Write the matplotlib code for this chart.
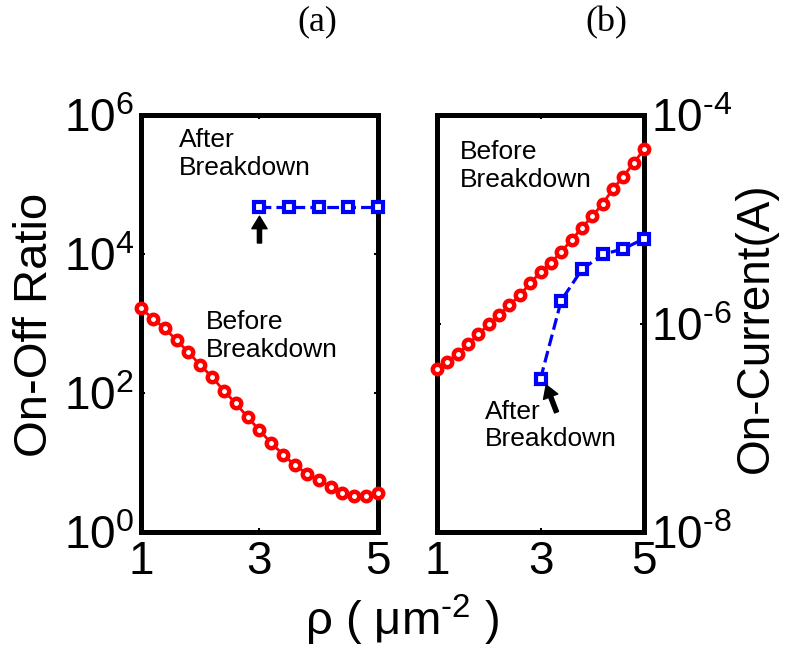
import matplotlib
matplotlib.use("Agg")
import matplotlib.pyplot as plt

plt.rcParams['font.family'] = ['Liberation Sans', 'DejaVu Sans']
plt.rcParams['mathtext.fontset'] = 'custom'
plt.rcParams['mathtext.rm'] = 'Liberation Sans'
plt.rcParams['mathtext.it'] = 'Liberation Sans'

# density values (um^-2)
rho = [1.0, 1.2, 1.4, 1.6, 1.8, 2.0, 2.2, 2.4, 2.6, 2.8, 3.0,
       3.2, 3.4, 3.6, 3.8, 4.0, 4.2, 4.4, 4.6, 4.8, 5.0]

# (a) on-off ratio
ratio_before = [1660, 1175, 851, 575, 389, 251, 170, 107, 71, 45, 29,
                19, 13, 9.1, 6.9, 5.6, 4.5, 3.6, 3.3, 3.3, 3.6]
rho_after_a = [3.0, 3.5, 4.0, 4.5, 5.0]
ratio_after = [48000, 48000, 48000, 48000, 48000]

# (b) on-current (A)
current_before = [3.7e-7, 4.3e-7, 5.1e-7, 6.3e-7, 7.9e-7, 9.8e-7, 1.2e-6,
                  1.5e-6, 1.86e-6, 2.45e-6, 3.1e-6, 3.8e-6, 4.9e-6, 6.3e-6,
                  8.3e-6, 1.07e-5, 1.41e-5, 1.95e-5, 2.57e-5, 3.47e-5, 4.68e-5]
rho_after_b = [3.0, 3.4, 3.8, 4.2, 4.6, 5.0]
current_after = [2.95e-7, 1.66e-6, 3.3e-6, 4.6e-6, 5.2e-6, 6.5e-6]

xticks = [1, 3, 5]
yticks_a = [1e0, 1e2, 1e4, 1e6]
ylabels_a = [r'$\mathregular{10^{0}}$', r'$\mathregular{10^{2}}$',
             r'$\mathregular{10^{4}}$', r'$\mathregular{10^{6}}$']
yticks_b = [1e-8, 1e-6, 1e-4]
ylabels_b = [r'$\mathregular{10^{\text{-}8}}$', r'$\mathregular{10^{\text{-}6}}$',
             r'$\mathregular{10^{\text{-}4}}$']

fig = plt.figure(figsize=(7.85, 6.55), dpi=100)
ax1 = fig.add_axes([0.1796, 0.1878, 0.3019, 0.6366])
ax2 = fig.add_axes([0.5567, 0.1878, 0.2637, 0.6366])

red_style = dict(color='red', marker='o', markersize=6.8, markeredgewidth=3.2,
                 markerfacecolor='white', linewidth=2, clip_on=False, zorder=3)
blue_style = dict(color='blue', marker='s', markersize=7.5, markeredgewidth=3,
                  markerfacecolor='white', linewidth=2.3, linestyle='--',
                  clip_on=False, zorder=3)

# panel (a)
ax1.semilogy(rho, ratio_before, **red_style)
ax1.semilogy(rho_after_a, ratio_after, **blue_style)
ax1.set_ylim(1e0, 1e6)
ax1.set_yticks(yticks_a)
ax1.set_yticklabels(ylabels_a)
ax1.annotate('', xy=(3, 3.5e4), xytext=(3, 1.44e4),
             arrowprops=dict(facecolor='black', edgecolor='black', width=3,
                             headwidth=11, headlength=9, shrink=0))
ax1.text(1.64, 10**5.81, 'After\nBreakdown', fontsize=19, ha='left', va='top')
ax1.text(2.10, 10**3.19, 'Before\nBreakdown', fontsize=19, ha='left', va='top')

# panel (b)
ax2.semilogy(rho, current_before, **red_style)
ax2.semilogy(rho_after_b, current_after, **blue_style)
ax2.set_ylim(1e-8, 1e-4)
ax2.set_yticks(yticks_b)
ax2.set_yticklabels(ylabels_b)
ax2.yaxis.tick_right()
ax2.annotate('', xy=(3.11, 2.57e-7), xytext=(3.31, 1.41e-7),
             arrowprops=dict(facecolor='black', edgecolor='black', width=3,
                             headwidth=11, headlength=9, shrink=0))
ax2.text(1.44, 10**-4.24, 'Before\nBreakdown', fontsize=19, ha='left', va='top')
ax2.text(1.93, 10**-6.73, 'After\nBreakdown', fontsize=19, ha='left', va='top')

for ax in (ax1, ax2):
    ax.set_xlim(1, 5)
    ax.set_xticks(xticks)
    ax.set_xticklabels([str(t) for t in xticks])
    ax.minorticks_off()
    ax.tick_params(which='both', direction='in', length=3, width=1.5,
                   top=True, bottom=True, left=True, right=True, pad=6)
    ax.tick_params(axis='x', labelsize=33)
    ax.tick_params(axis='y', labelsize=33, pad=5)
    for sp in ax.spines.values():
        sp.set_linewidth(3.6)

fig.text(0.0446, 0.504, 'On-Off Ratio', rotation=90, fontsize=34,
         ha='center', va='center')
fig.text(0.963, 0.499, 'On-Current(A)', rotation=90, fontsize=33,
         ha='center', va='center')
fig.text(0.512, 0.03, r'ρ ( μm$^{\text{-}2}$ )', fontsize=34, ha='center', va='baseline')
fig.text(0.404, 0.966, '(a)', fontsize=26, family='Liberation Serif',
         ha='center', va='center')
fig.text(0.772, 0.966, '(b)', fontsize=26, family='Liberation Serif',
         ha='center', va='center')

fig.savefig('out.png', dpi=100)
